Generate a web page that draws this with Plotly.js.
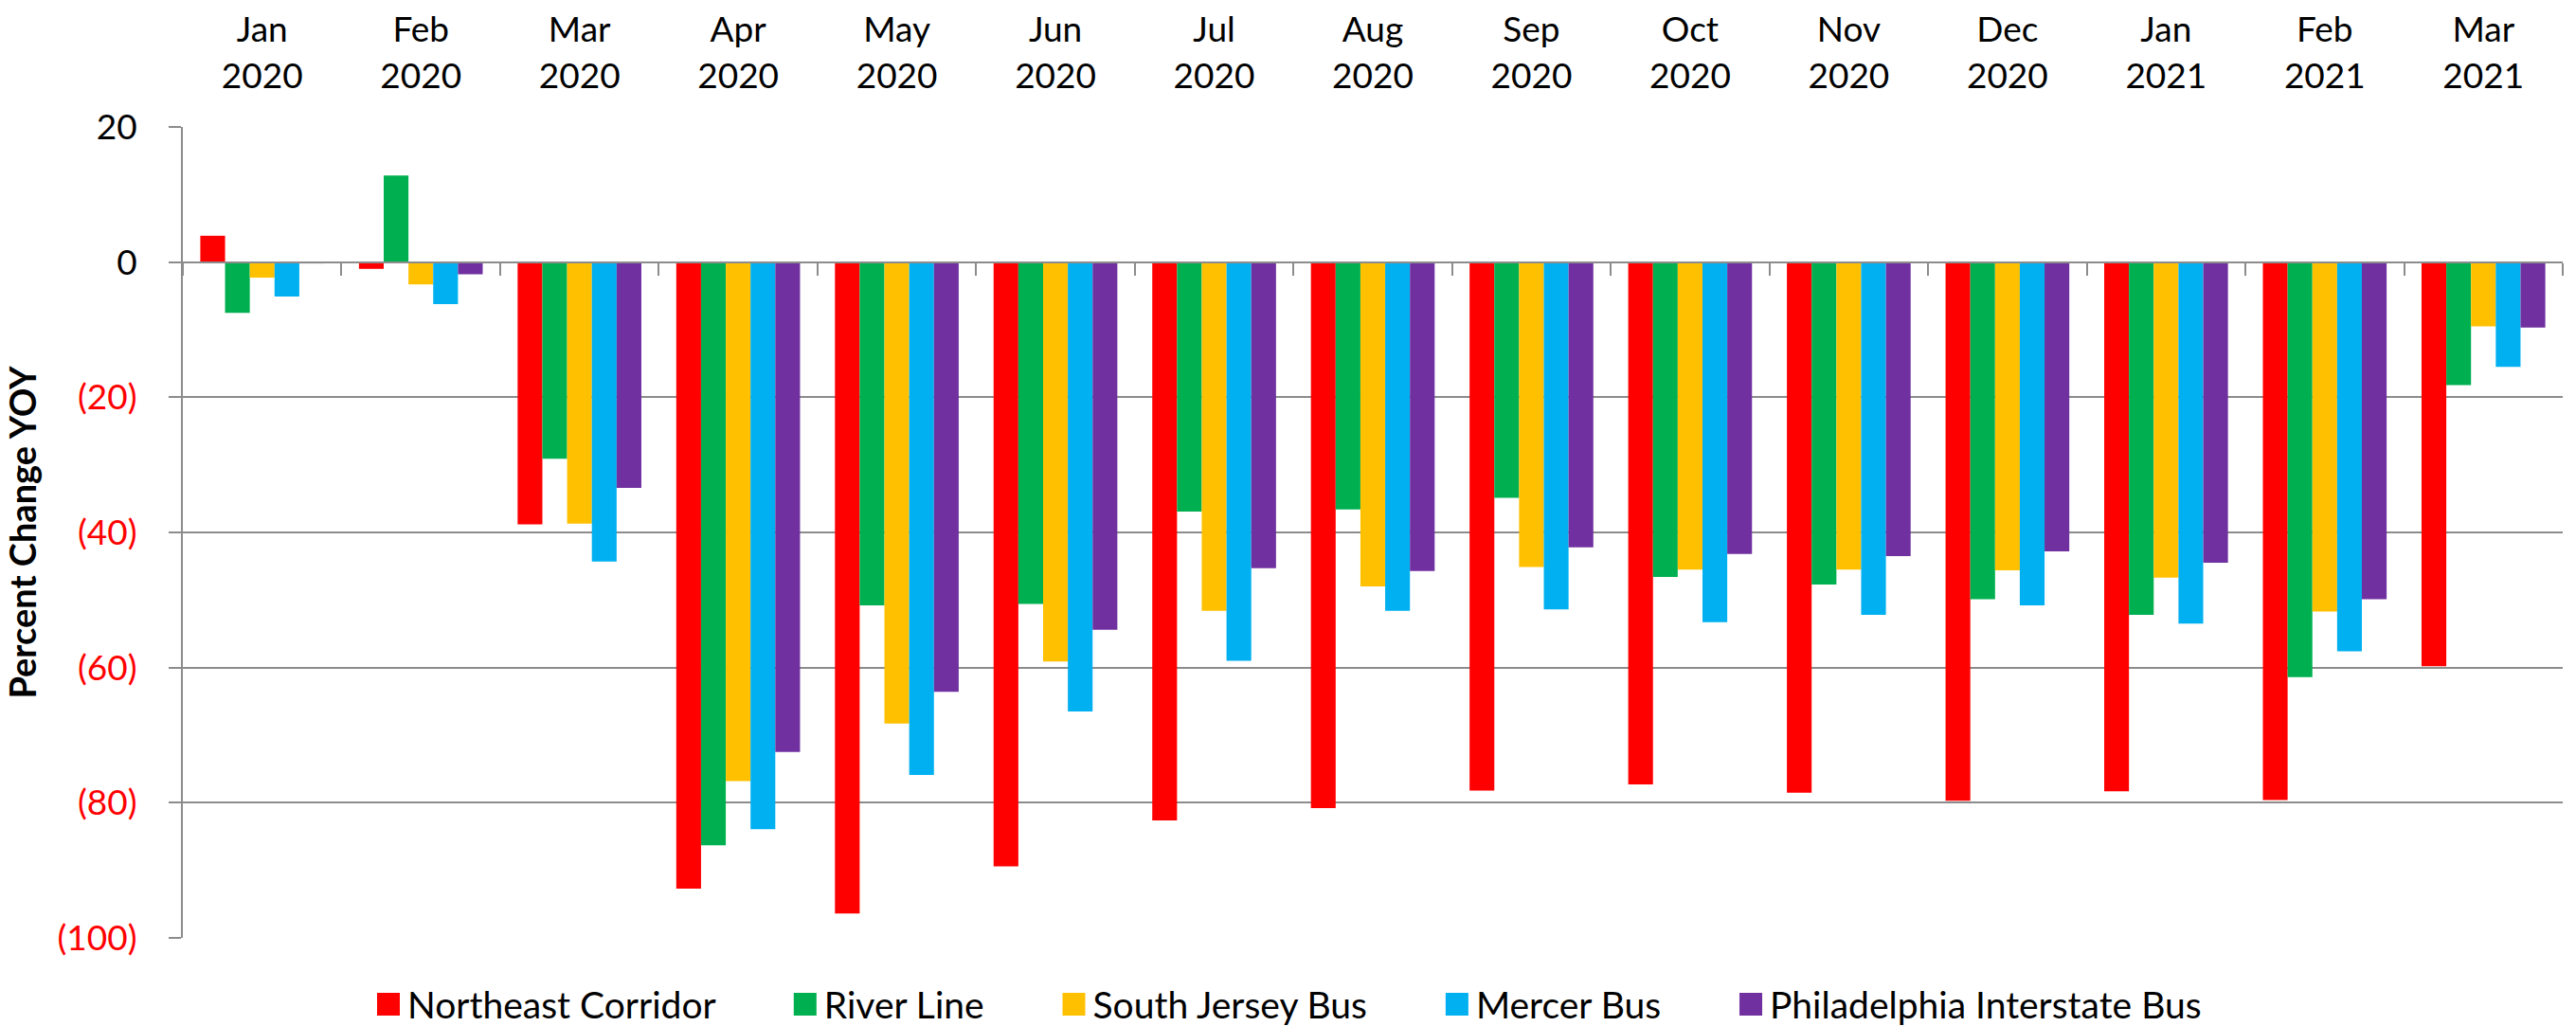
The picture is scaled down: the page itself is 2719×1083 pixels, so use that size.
<!DOCTYPE html>
<html>
<head>
<meta charset="utf-8">
<script src="https://cdn.plot.ly/plotly-3.0.1.min.js"></script>
<style>
html, body { margin: 0; padding: 0; background: #ffffff; }
#chart { width: 2719px; height: 1083px; }
.legend .legendpoints path { d: path('M12,12H-12V-12H12Z'); }
</style>
</head>
<body>
<div id="chart"></div>
<script>
const months = ['Jan<br>2020', 'Feb<br>2020', 'Mar<br>2020', 'Apr<br>2020', 'May<br>2020', 'Jun<br>2020',
  'Jul<br>2020', 'Aug<br>2020', 'Sep<br>2020', 'Oct<br>2020', 'Nov<br>2020', 'Dec<br>2020',
  'Jan<br>2021', 'Feb<br>2021', 'Mar<br>2021'];

const northeastCorridor = [3.9, -1.0, -38.8, -92.7, -96.4, -89.4, -82.6, -80.8, -78.2, -77.3, -78.5, -79.7, -78.3, -79.6, -59.8];
const riverLine = [-7.5, 12.8, -29.1, -86.3, -50.8, -50.6, -36.9, -36.6, -34.9, -46.6, -47.7, -49.9, -52.2, -61.4, -18.2];
const southJerseyBus = [-2.3, -3.3, -38.7, -76.8, -68.3, -59.1, -51.6, -48.0, -45.1, -45.5, -45.5, -45.6, -46.7, -51.7, -9.5];
const mercerBus = [-5.1, -6.2, -44.3, -83.9, -75.9, -66.5, -59.0, -51.6, -51.4, -53.3, -52.2, -50.8, -53.5, -57.6, -15.5];
const philadelphiaInterstateBus = [-0.2, -1.8, -33.4, -72.5, -63.6, -54.4, -45.3, -45.7, -42.2, -43.2, -43.5, -42.8, -44.5, -49.9, -9.7];

const seriesNames = ['Northeast Corridor', 'River Line', 'South Jersey Bus', 'Mercer Bus', 'Philadelphia Interstate Bus'];
const seriesValues = [northeastCorridor, riverLine, southJerseyBus, mercerBus, philadelphiaInterstateBus];
const seriesColors = ['#FF0000', '#00B050', '#FFC000', '#00B0F0', '#7030A0'];

const yTickVals = [20, 0, -20, -40, -60, -80, -100];
const yTickText = ['20', '0', '(20)', '(40)', '(60)', '(80)', '(100)'];
const yTickColors = ['#000000', '#000000', '#FF0000', '#FF0000', '#FF0000', '#FF0000', '#FF0000'];

const pad = '\u00A0\u00A0\u00A0\u00A0\u00A0\u00A0\u00A0';
const traces = seriesNames.map((name, i) => ({
  type: 'bar',
  name: name + (i < seriesNames.length - 1 ? pad : ''),
  x: months,
  y: seriesValues[i],
  marker: { color: seriesColors[i], line: { width: 0 } },
  hoverinfo: 'skip'
}));

// empty trace to register the category-boundary axis drawn at y = 0
traces.push({ type: 'scatter', x: [], y: [], xaxis: 'x2', yaxis: 'y', showlegend: false, hoverinfo: 'skip' });

const gridGray = '#8C8C8C';
const FONT = 'Lato, "Open Sans", sans-serif';

const layout = {
  width: 2719,
  height: 1083,
  paper_bgcolor: '#ffffff',
  plot_bgcolor: '#ffffff',
  margin: { l: 193, r: 14, t: 134, b: 93, pad: 0 },
  font: { family: FONT, size: 37, color: '#000000' },
  barmode: 'group',
  bargap: 0.22,
  bargroupgap: 0,
  showlegend: true,
  legend: {
    orientation: 'h',
    xref: 'container', yref: 'container',
    x: 0.5, xanchor: 'center',
    y: 0.021, yanchor: 'middle',
    font: { family: FONT, size: 39, color: '#000000' },
    traceorder: 'normal',
    bgcolor: 'rgba(0,0,0,0)'
  },
  xaxis: {
    type: 'category',
    side: 'top',
    showgrid: false,
    zeroline: false,
    showline: false,
    ticks: '',
    tickfont: { family: FONT, size: 37, color: '#000000' },
    ticklabelstandoff: 33,
    fixedrange: true
  },
  xaxis2: {
    type: 'linear',
    overlaying: 'x',
    anchor: 'free',
    position: 100 / 120,
    side: 'bottom',
    range: [-0.5, 14.5],
    tickmode: 'linear',
    tick0: -0.5,
    dtick: 1,
    showticklabels: false,
    showgrid: false,
    zeroline: false,
    showline: true,
    linecolor: gridGray,
    linewidth: 2,
    ticks: 'outside',
    ticklen: 13,
    tickwidth: 2,
    tickcolor: gridGray,
    fixedrange: true
  },
  yaxis: {
    range: [-100, 20],
    tickmode: 'array',
    tickvals: yTickVals,
    ticktext: yTickText.map((t, i) => '<span style="color:' + yTickColors[i] + '">' + t + '</span>'),
    tickfont: { family: FONT, size: 37, color: '#000000' },
    showgrid: true,
    gridcolor: gridGray,
    gridwidth: 2,
    zeroline: false,
    showline: true,
    linecolor: gridGray,
    linewidth: 2,
    ticks: 'outside',
    ticklen: 13,
    tickwidth: 2,
    tickcolor: gridGray,
    ticklabelstandoff: 26,
    title: {
      text: 'Percent Change YOY',
      font: { family: FONT, size: 38, color: '#000000', weight: 'bold' },
      standoff: 20
    },
    fixedrange: true
  }
};

function enlargeLegendSymbols() {
  document.querySelectorAll('.legend .legendpoints path').forEach(p => {
    p.setAttribute('d', 'M12,12H-12V-12H12Z');
  });
}

Plotly.newPlot('chart', traces, layout, { displayModeBar: false, staticPlot: true }).then(() => {
  enlargeLegendSymbols();
  setTimeout(enlargeLegendSymbols, 50);
  setTimeout(enlargeLegendSymbols, 300);
});
</script>
</body>
</html>
